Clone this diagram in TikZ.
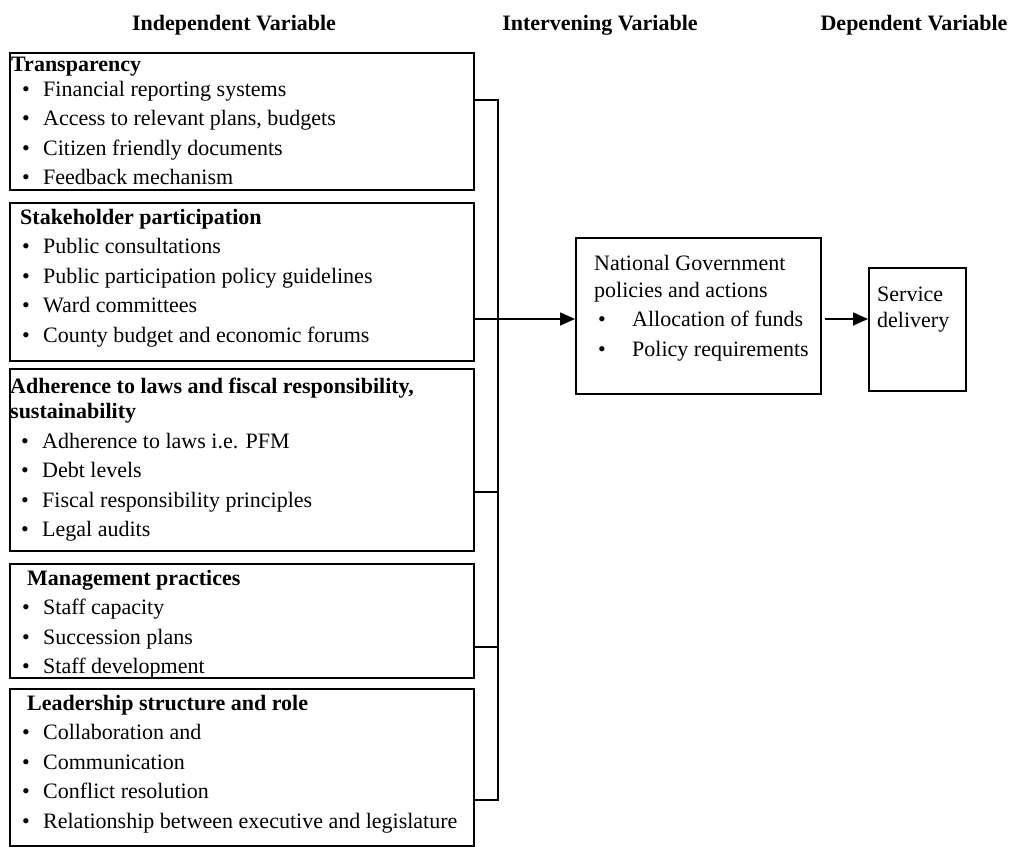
\documentclass[tikz,border=0pt]{standalone}
\usepackage{fontspec}
\setmainfont{Liberation Serif}
\usetikzlibrary{arrows.meta}
\newcommand{\itm}[1]{\hspace*{11pt}\makebox[21pt][l]{\textbullet}#1}
\newcommand{\nitm}[1]{\hspace*{4pt}\makebox[34pt][l]{\textbullet}#1}

\begin{document}
\begin{tikzpicture}[x=1pt,y=-1pt,
    box/.style={draw=black,line width=1.6pt,anchor=north west,inner sep=0pt},
    txt/.style={anchor=north west,inner sep=0pt,align=left,font=\fontsize{22}{29.5}\selectfont},
    hd/.style={anchor=base,inner sep=0pt,font=\fontsize{22}{26}\selectfont\bfseries},
    wire/.style={black,line width=1.6pt},
    arr/.style={wire,-{Triangle[length=15pt,width=13pt]}}]
\useasboundingbox (0,0) rectangle (1020,846);

\node[hd] (hind) at (234,30) {Independent Variable};
\node[hd] (hint) at (600,30) {Intervening Variable};
\node[hd] (hdep) at (914,30) {Dependent Variable};

\node[box,minimum width=464pt,minimum height=137pt] (tr) at (9,52) {};
\node[box,minimum width=464pt,minimum height=158pt] (sp) at (9,202) {};
\node[box,minimum width=464pt,minimum height=182pt] (ad) at (9,368) {};
\node[box,minimum width=464pt,minimum height=114pt] (mg) at (9,563) {};
\node[box,minimum width=464pt,minimum height=157pt] (ld) at (9,688) {};
\node[box,minimum width=245pt,minimum height=156pt] (ng) at (575,237) {};
\node[box,minimum width=97pt,minimum height=123pt] (sd) at (868,267) {};

\node[txt] (trt) at (11,57) {\textbf{Transparency}\\[-5pt]
    \itm{Financial reporting systems}\\
    \itm{Access to relevant plans, budgets}\\
    \itm{Citizen friendly documents}\\
    \itm{Feedback mechanism}};
\node[txt] (spt) at (11,209) {\hspace*{9pt}\textbf{Stakeholder participation}\\
    \itm{Public consultations}\\
    \itm{Public participation policy guidelines}\\
    \itm{Ward committees}\\
    \itm{County budget and economic forums}};
\node[txt] (adt) at (10,378) {\textbf{Adherence to laws and fiscal responsibility,}\\[-4.5pt]
    \textbf{sustainability}\\
    \itm{Adherence to laws i.e. PFM}\\
    \itm{Debt levels}\\
    \itm{Fiscal responsibility principles}\\
    \itm{Legal audits}};
\node[txt] (mgt) at (11,570) {\hspace*{16pt}\textbf{Management practices}\\
    \itm{Staff capacity}\\
    \itm{Succession plans}\\
    \itm{Staff development}};
\node[txt] (ldt) at (11,695) {\hspace*{16pt}\textbf{Leadership structure and role}\\
    \itm{Collaboration and}\\
    \itm{Communication}\\
    \itm{Conflict resolution}\\
    \itm{Relationship between executive and legislature}};
\node[txt] (ngt) at (594,255) {National Government\\[-2.5pt]
    policies and actions\\
    \nitm{Allocation of funds}\\
    \nitm{Policy requirements}};
\node[txt] (sdt) at (877,287) {Service\\[-3.5pt] delivery};

\coordinate (bt) at (498,100);
\coordinate (jn) at (498,319);
\coordinate (ja) at (498,492);
\coordinate (jm) at (498,647);
\coordinate (bb) at (498,800);

\draw[wire] (tr.east |- bt) -- (bt) -- (bb) -- (ld.east |- bb);
\draw[wire] (ad.east |- ja) -- (ja);
\draw[wire] (mg.east |- jm) -- (jm);
\draw[arr] (sp.east |- jn) -- (ng.west |- jn);
\draw[arr,shorten <=3pt] (ng.east |- jn) -- (sd.west |- jn);
\end{tikzpicture}
\end{document}
